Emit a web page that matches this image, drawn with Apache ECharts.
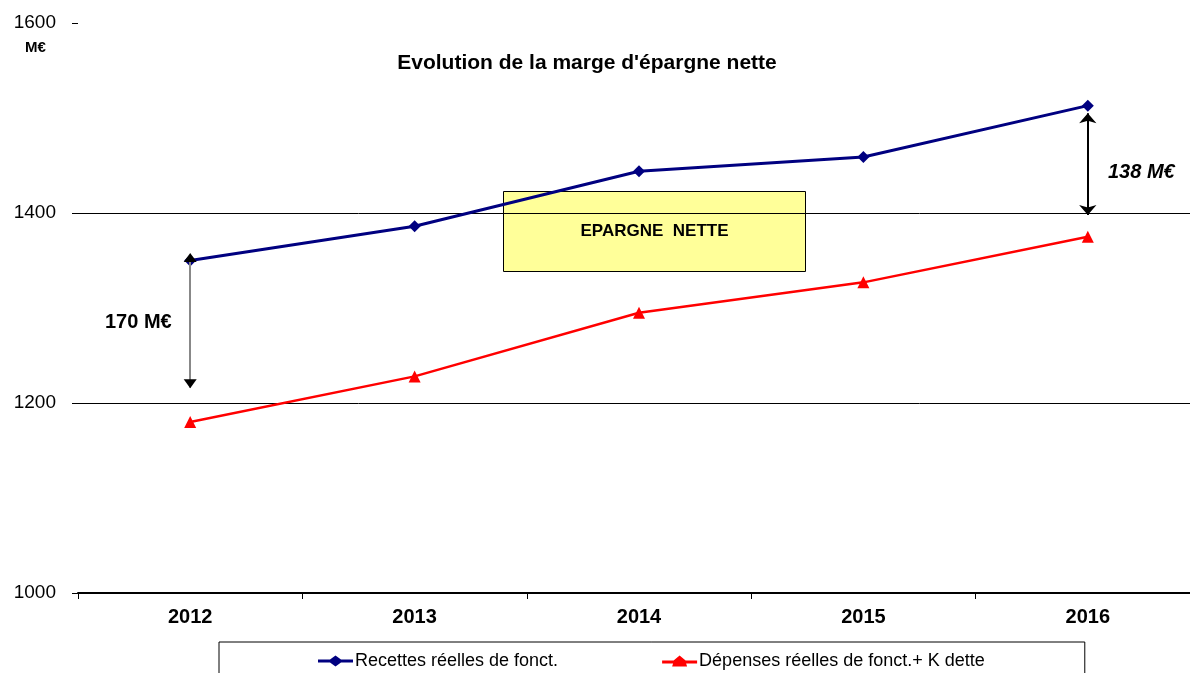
<!DOCTYPE html>
<html>
<head>
<meta charset="utf-8">
<script src="https://cdn.jsdelivr.net/npm/echarts@6/dist/echarts.min.js"></script>
<style>
  html, body { margin: 0; padding: 0; background: #ffffff; overflow: hidden; }
  #chart { width: 1200px; height: 673px; }
</style>
</head>
<body>
<div id="chart"></div>
<script>
// données
var annees = ["2012", "2013", "2014", "2015", "2016"];
var recettes = [1350, 1386, 1444, 1459, 1513];
var depenses = [1180, 1228, 1295, 1327, 1375];
var yTicks = [1000, 1200, 1400, 1600];
// flèches d'écart
var ecart2012 = [1350, 1216];
var ecart2016 = [1505, 1398];

var font = "Liberation Sans, Arial, sans-serif";
var myChart = echarts.init(document.getElementById("chart"));

var option = {
  backgroundColor: "#ffffff",
  animation: false,
  title: {
    text: "Evolution de la marge d'épargne nette",
    left: 582,
    top: 48,
    textAlign: "center",
    textStyle: { fontFamily: font, fontSize: 21, fontWeight: "bold", color: "#000" }
  },
  grid: { left: 78, top: 23, width: 1122, height: 570 },
  legend: {
    data: [
      { name: "Recettes réelles de fonct.", icon: "path://M0,4L12,4L17.5,0L23,4L35,4L35,7L23,7L17.5,11L12,7L0,7Z" },
      { name: "Dépenses réelles de fonct.+ K dette", icon: "path://M0,5L11.5,5L17.5,0L23.5,5L35,5L35,8L24,8L25,11L10,11L11,8L0,8Z" }
    ],
    left: 219,
    top: 642,
    padding: [10, 100, 30, 99],
    borderColor: "#000",
    borderWidth: 1,
    itemGap: 104,
    itemWidth: 35,
    itemHeight: 11,
    textStyle: { fontFamily: font, fontSize: 18, color: "#000", padding: [0, 0, 0, -3] }
  },
  xAxis: {
    type: "category",
    data: annees,
    boundaryGap: true,
    axisLine: { lineStyle: { color: "#000", width: 2 } },
    axisTick: { show: true, length: 6, inside: false, lineStyle: { color: "#000", width: 1 } },
    axisLabel: { fontFamily: font, fontSize: 20, fontWeight: "bold", color: "#000", margin: 14 }
  },
  yAxis: {
    type: "value",
    min: yTicks[0],
    max: yTicks[yTicks.length - 1],
    interval: 200,
    axisLine: { show: false },
    axisTick: { show: true, length: 6, inside: false, lineStyle: { color: "#000" } },
    axisLabel: {
      fontFamily: font, fontSize: 19, color: "#000", margin: 22,
      formatter: function (v) { return String(v); }
    },
    splitLine: { show: true, showMaxLine: false, showMinLine: false, lineStyle: { color: "#000", width: 1 } }
  },
  series: [
    {
      name: "Recettes réelles de fonct.",
      type: "line",
      data: recettes,
      symbol: "diamond",
      symbolSize: 12,
      itemStyle: { color: "#000080" },
      lineStyle: { color: "#000080", width: 3 },
      z: 3,
      markLine: {
        silent: true,
        symbol: ["none", "none"],
        label: { show: false },
        lineStyle: { type: "solid", width: 2, color: "#888" },
        data: [
          [
            { coord: ["2012", ecart2012[0]] },
            { coord: ["2012", ecart2012[1]] }
          ]
        ]
      },
      markPoint: {
        silent: true,
        label: { show: false },
        itemStyle: { color: "#000" },
        data: [
          { coord: ["2012", ecart2012[1]], symbol: "triangle", symbolRotate: 180, symbolSize: [13, 9], symbolOffset: [0, -4] },
          { coord: ["2012", ecart2012[0]], symbol: "triangle", symbolSize: [13, 9], symbolOffset: [0, -3] }
        ]
      }
    },
    {
      name: "Dépenses réelles de fonct.+ K dette",
      type: "line",
      data: depenses,
      symbol: "triangle",
      symbolSize: 12,
      itemStyle: { color: "#ff0000" },
      lineStyle: { color: "#ff0000", width: 2.5 },
      z: 3,
      markLine: {
        silent: true,
        symbol: ["arrow", "arrow"],
        symbolSize: [13, 10],
        label: { show: false },
        lineStyle: { type: "solid", width: 2, color: "#000" },
        data: [
          [
            { coord: ["2016", ecart2016[0]] },
            { coord: ["2016", ecart2016[1]] }
          ]
        ]
      }
    }
  ],
  graphic: [
    {
      type: "text",
      left: 25,
      top: 40,
      style: { text: "M€", font: "bold 15px " + font, fill: "#000" }
    },
    {
      type: "text",
      left: 105,
      top: 312,
      style: { text: "170 M€", font: "bold 20px " + font, fill: "#000" }
    },
    {
      type: "text",
      left: 1108,
      top: 162,
      style: { text: "138 M€", font: "italic bold 20px " + font, fill: "#000" }
    },
    {
      type: "group",
      left: 503,
      top: 191,
      z: 100,
      children: [
        {
          type: "rect",
          shape: { x: 0, y: 0, width: 302, height: 80 },
          style: { fill: "#ffff99", stroke: "#000", lineWidth: 1 }
        },
        {
          type: "text",
          x: 151,
          y: 40,
          style: { text: "EPARGNE  NETTE", font: "bold 17px " + font, fill: "#000", align: "center", verticalAlign: "middle" }
        }
      ]
    }
  ]
};

myChart.setOption(option);
window.addEventListener("resize", function () {
  myChart.resize();
});
</script>
</body>
</html>
